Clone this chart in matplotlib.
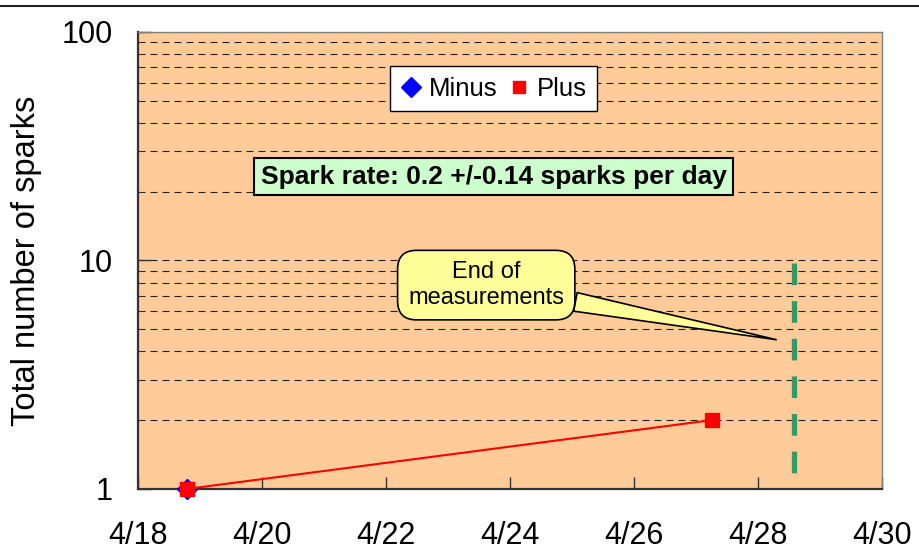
import matplotlib
matplotlib.use("Agg")
import matplotlib.pyplot as plt
import matplotlib.dates as mdates
from matplotlib.lines import Line2D
from matplotlib.ticker import FuncFormatter, LogLocator, NullFormatter
from datetime import datetime

plt.rcParams['font.family'] = ['Liberation Sans', 'DejaVu Sans']

# data
minus_dates = [datetime(2005, 4, 18, 19)]
minus_counts = [1]
plus_dates = [datetime(2005, 4, 18, 19), datetime(2005, 4, 27, 6)]
plus_counts = [1, 2]
end_date = datetime(2005, 4, 28, 14)
end_range = [10, 1]
rate_text = "Spark rate: 0.2 +/-0.14 sparks per day"
callout_text = "End of\nmeasurements"
callout_target = (datetime(2005, 4, 28, 7), 4.5)

fig = plt.figure(figsize=(9.19, 5.5), dpi=100)
ax = fig.add_axes([0.150, 0.111, 0.810, 0.831])
ax.set_facecolor('#FFCC99')

ax.plot(minus_dates, minus_counts, linestyle='none', marker='D', color='#0000FF',
        markersize=10, zorder=3, clip_on=False)
ax.plot(plus_dates, plus_counts, color='#FF0000', lw=1.5, marker='s',
        markersize=9.5, zorder=4, clip_on=False)
ax.plot([end_date, end_date], end_range, color='#339966', lw=3.8,
        linestyle=(6.56, (4.1, 3.03)), zorder=2)

ax.set_yscale('log')
ax.set_ylim(1, 100)
ax.set_xlim(datetime(2005, 4, 18), datetime(2005, 4, 30))
ax.xaxis.set_major_locator(mdates.DayLocator(interval=2))
ax.xaxis.set_major_formatter(FuncFormatter(
    lambda x, p: f"{mdates.num2date(x).month}/{mdates.num2date(x).day}"))
ax.yaxis.set_major_formatter(FuncFormatter(lambda y, p: f"{y:g}"))
ax.yaxis.set_minor_locator(LogLocator(base=10, subs=range(2, 10)))
ax.yaxis.set_minor_formatter(NullFormatter())

ax.grid(True, which='both', axis='y', color='#222222', lw=0.8, dashes=(6.3, 4.5))
ax.set_axisbelow(True)

ax.tick_params(axis='both', which='major', direction='in', labelsize=22,
               length=9, width=1, color='#333333')
ax.tick_params(axis='x', which='major', pad=23)
ax.tick_params(axis='y', which='major', pad=18)
ax.tick_params(axis='y', which='minor', direction='in', length=4, color='#333333')
ax.set_ylabel('Total number of sparks', fontsize=23.5, labelpad=14)

for s in ['left', 'bottom']:
    ax.spines[s].set_color('#333333')
    ax.spines[s].set_linewidth(1.6)
for s in ['top', 'right']:
    ax.spines[s].set_color('#808080')
    ax.spines[s].set_linewidth(1.0)

handles = [Line2D([], [], linestyle='none', marker='D', color='#0000FF', markersize=10),
           Line2D([], [], linestyle='none', marker='s', color='#FF0000', markersize=8)]
leg = ax.legend(handles, ['Minus', 'Plus'], loc='center', bbox_to_anchor=(0.478, 0.876),
                ncol=2, fontsize=18.5, fancybox=False, framealpha=1, edgecolor='black',
                handlelength=0.8, handletextpad=0.3, columnspacing=0.45,
                borderpad=0.4, borderaxespad=0)
leg.get_frame().set_linewidth(1.0)

ax.text(0.478, 0.683, rate_text, transform=ax.transAxes, ha='center', va='center',
        fontsize=19, fontweight='bold',
        bbox=dict(boxstyle='square,pad=0.25', fc='#CCFFCC', ec='black', lw=1.5))

ax.annotate(callout_text, xy=callout_target, xycoords='data',
            xytext=(0.468, 0.446), textcoords='axes fraction',
            ha='center', va='center', fontsize=17, linespacing=1.25,
            bbox=dict(boxstyle='round,pad=0.45,rounding_size=0.8', fc='#FFFF99',
                      ec='black', lw=1.2),
            arrowprops=dict(arrowstyle='wedge,tail_width=0.8,shrink_factor=0.5',
                            fc='#FFFF99', ec='black', lw=1.2, shrinkA=0, shrinkB=0))

fig.add_artist(Line2D([0, 1], [0.989, 0.989], color='#222222', lw=1.5,
                      transform=fig.transFigure))

fig.savefig('out.png', dpi=100)
